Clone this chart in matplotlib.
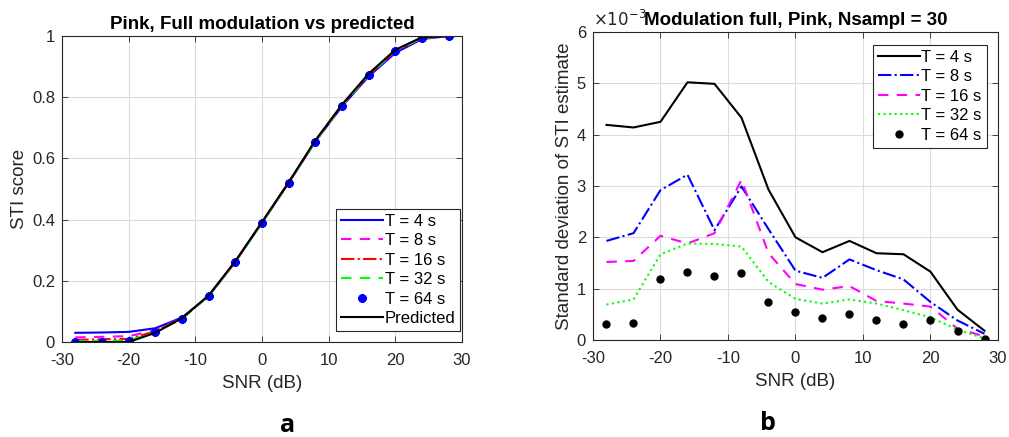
import matplotlib.pyplot as plt
import numpy as np

plt.rcParams['font.family'] = ['Liberation Sans', 'DejaVu Sans']
plt.rcParams['axes.unicode_minus'] = False

# SNR steps (dB)
snr = np.arange(-28, 29, 4)

# panel a: STI score
sti_t4 = [0.030, 0.031, 0.033, 0.045, 0.080, 0.150, 0.262, 0.390, 0.520, 0.655, 0.770, 0.868, 0.945, 0.990, 1.000]
sti_t8 = [0.015, 0.017, 0.019, 0.038, 0.078, 0.150, 0.262, 0.390, 0.520, 0.656, 0.772, 0.872, 0.950, 0.993, 1.000]
sti_t16 = [0.007, 0.009, 0.010, 0.035, 0.077, 0.151, 0.263, 0.391, 0.521, 0.657, 0.773, 0.873, 0.951, 0.994, 1.000]
sti_t32 = [0.003, 0.004, 0.005, 0.032, 0.075, 0.150, 0.262, 0.390, 0.520, 0.656, 0.773, 0.873, 0.951, 0.994, 1.000]
sti_t64 = [0.001, 0.001, 0.002, 0.033, 0.075, 0.150, 0.261, 0.389, 0.520, 0.655, 0.772, 0.872, 0.951, 0.994, 1.000]
sti_pred = [0.000, 0.000, 0.000, 0.030, 0.078, 0.152, 0.264, 0.392, 0.522, 0.659, 0.776, 0.877, 0.955, 0.996, 1.000]

# panel b: standard deviation (x 1e-3)
sd_t4 = [4.19, 4.14, 4.25, 5.02, 4.99, 4.33, 2.93, 2.00, 1.71, 1.93, 1.69, 1.67, 1.33, 0.59, 0.18]
sd_t8 = [1.93, 2.08, 2.92, 3.22, 2.14, 2.99, 2.16, 1.35, 1.21, 1.57, 1.36, 1.18, 0.74, 0.38, 0.12]
sd_t16 = [1.52, 1.54, 2.03, 1.88, 2.08, 3.12, 1.69, 1.09, 0.98, 1.05, 0.76, 0.71, 0.65, 0.22, 0.07]
sd_t32 = [0.69, 0.79, 1.67, 1.88, 1.87, 1.82, 1.13, 0.80, 0.71, 0.79, 0.71, 0.58, 0.44, 0.20, 0.03]
sd_t64 = [0.31, 0.33, 1.18, 1.33, 1.25, 1.31, 0.74, 0.54, 0.42, 0.51, 0.39, 0.31, 0.39, 0.17, 0.02]

txt = '#262626'
blue = '#0000ff'
magenta = '#ff00ff'
red = '#ff0000'
green = '#00ff00'

fig = plt.figure(figsize=(10.09, 4.37), dpi=100)
ax1 = fig.add_axes([0.0614, 0.2174, 0.3965, 0.7002])
ax2 = fig.add_axes([0.5877, 0.2220, 0.4014, 0.7048])


def style(ax):
    ax.grid(True, color='#dcdcdc', linewidth=0.8)
    ax.set_axisbelow(True)
    for s in ax.spines.values():
        s.set_color(txt)
        s.set_linewidth(0.8)
    ax.tick_params(direction='in', length=4, width=0.6, colors=txt, labelsize=12,
                   top=True, right=True)
    ax.tick_params(axis='x', pad=8)
    ax.tick_params(axis='y', pad=5)
    ax.set_xlim(-30, 30)
    ax.set_xticks(np.arange(-30, 31, 10))
    ax.set_xlabel('SNR (dB)', fontsize=13.5, color=txt, labelpad=5)


# panel a
ax1.plot(snr, sti_t4, color=blue, lw=1.5, label='T = 4 s')
ax1.plot(snr, sti_t8, color=magenta, lw=1.5, ls=(0, (5, 4)), label='T = 8 s')
ax1.plot(snr, sti_t16, color=red, lw=1.5, ls='-.', label='T = 16 s')
ax1.plot(snr, sti_t32, color=green, lw=1.5, ls=(0, (5, 4)), label='T = 32 s')
ax1.plot(snr, sti_t64, color=blue, ls='none', marker=(8, 2, 0), ms=6, mew=2, label='T = 64 s')
ax1.plot(snr, sti_pred, color='k', lw=1.5, label='Predicted')
style(ax1)
ax1.set_ylim(0, 1)
ax1.set_yticks(np.arange(0, 1.01, 0.2))
ax1.set_yticklabels(['0', '0.2', '0.4', '0.6', '0.8', '1'])
ax1.set_ylabel('STI score', fontsize=13.5, color=txt, labelpad=3)
ax1.set_title('Pink, Full modulation vs predicted', fontsize=13.5, fontweight='bold', pad=5)
leg1 = ax1.legend(loc='lower right', bbox_to_anchor=(1.0, 0.03), fontsize=12, handlelength=2.5,
                  handletextpad=0.1, borderpad=0.3, labelspacing=0.27, fancybox=False,
                  framealpha=1, edgecolor=txt, borderaxespad=0.1)
leg1.get_frame().set_linewidth(0.8)

# panel b
ax2.plot(snr, sd_t4, color='k', lw=1.5, label='T = 4 s')
ax2.plot(snr, sd_t8, color=blue, lw=1.5, ls='-.', label='T = 8 s')
ax2.plot(snr, sd_t16, color=magenta, lw=1.5, ls=(0, (5, 4)), label='T = 16 s')
ax2.plot(snr, sd_t32, color=green, lw=1.5, ls=':', label='T = 32 s')
ax2.plot(snr, sd_t64, color='k', ls='none', marker='o', ms=5, label='T = 64 s')
style(ax2)
ax2.set_ylim(0, 6)
ax2.set_yticks(np.arange(0, 7, 1))
ax2.set_ylabel('Standard deviation of STI estimate', fontsize=13.5, color=txt, labelpad=3)
ax2.set_title('Modulation full, Pink, Nsampl = 30', fontsize=13.5, fontweight='bold', pad=5)
ax2.text(0.0, 1.01, r'$\times10^{-3}$', transform=ax2.transAxes, fontsize=12, color=txt,
         ha='left', va='bottom')
leg2 = ax2.legend(loc='upper right', bbox_to_anchor=(0.98, 0.97), fontsize=12, handlelength=2.5,
                  handletextpad=0.1, borderpad=0.3, labelspacing=0.27, fancybox=False,
                  framealpha=1, edgecolor=txt, borderaxespad=0.2)
leg2.get_frame().set_linewidth(0.8)

fig.text(288 / 1009, 1 - 426 / 437, 'a', fontsize=18, fontweight='bold', family='Open Sans',
         ha='center', va='center')
fig.text(768 / 1009, 1 - 424 / 437, 'b', fontsize=18, fontweight='bold', family='Open Sans',
         ha='center', va='center')

fig.savefig('out.png', dpi=100)
